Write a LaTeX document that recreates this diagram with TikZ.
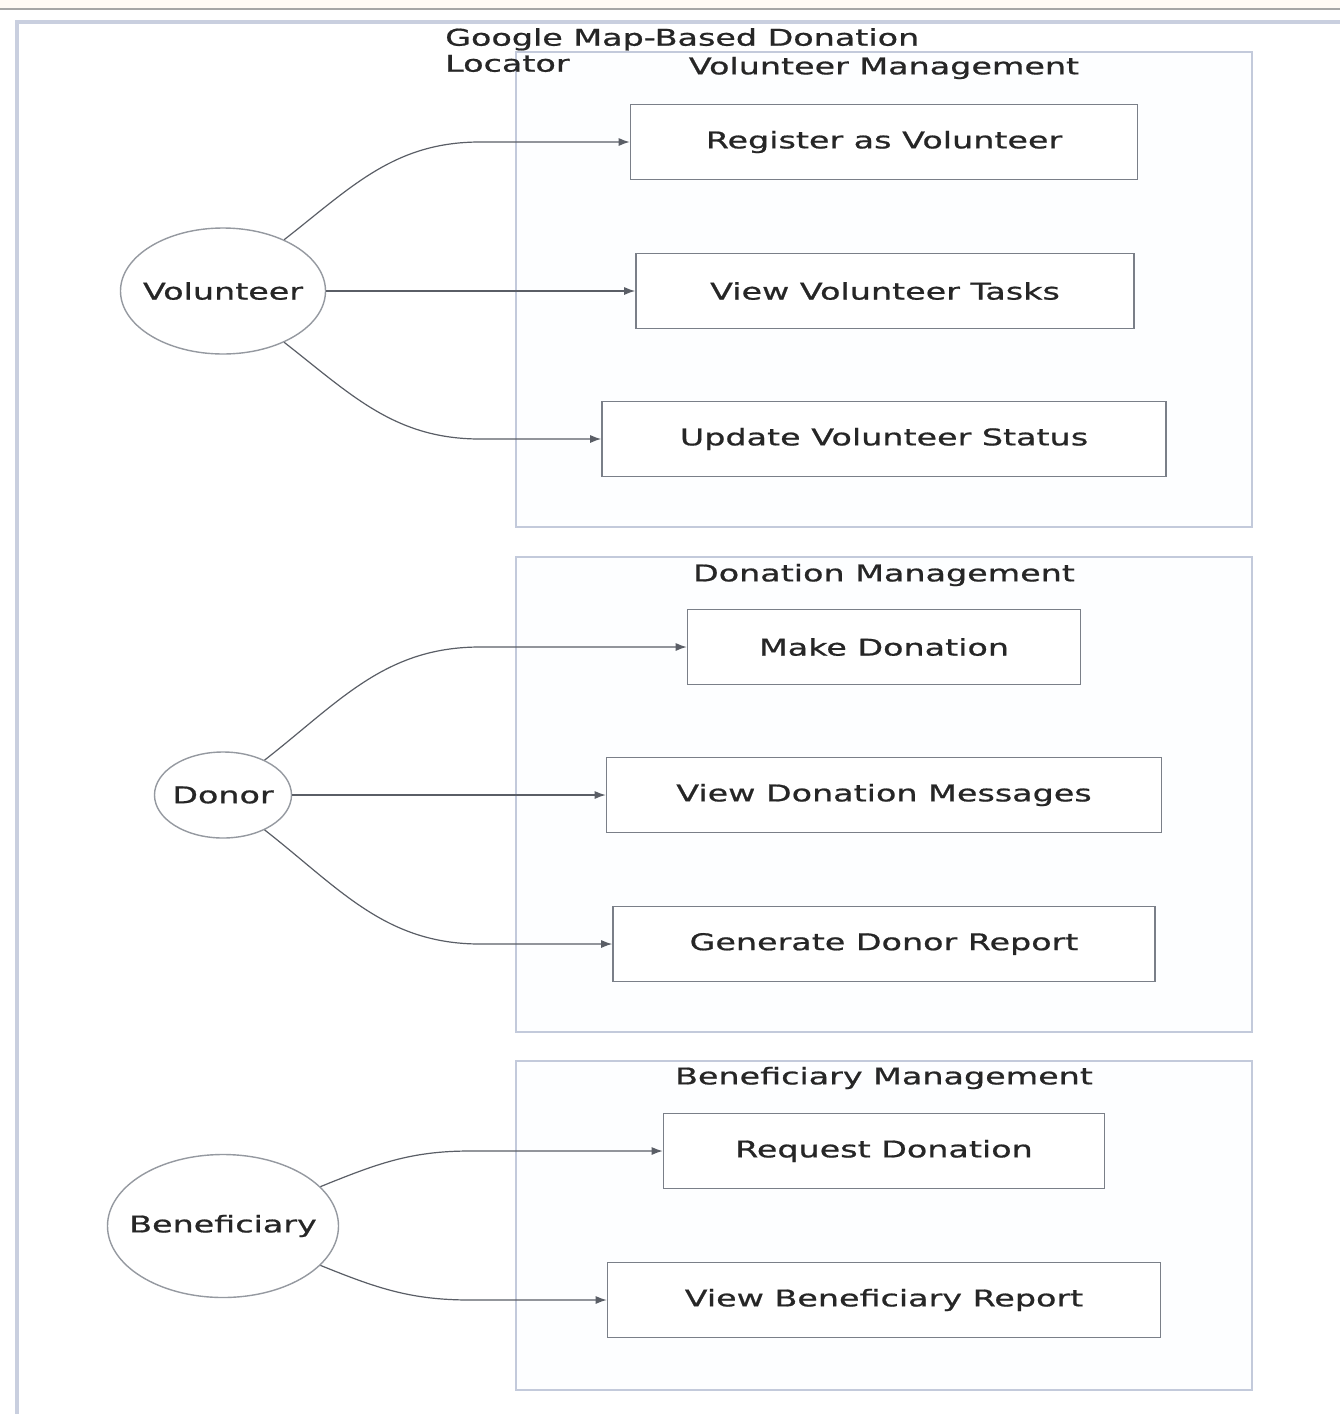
\documentclass[tikz,border=0pt]{standalone}
\usepackage{fontspec}
\setmainfont{DejaVu Sans}[FakeStretch=1.45, FakeBold=0.8]
\usetikzlibrary{shapes.geometric,arrows.meta}
\definecolor{sgborder}{HTML}{C3CADB}
\definecolor{sgfill}{HTML}{FDFEFF}
\definecolor{boxline}{HTML}{7A7F88}
\definecolor{edge}{HTML}{5A5E66}
\tikzset{
  lbl/.style={font=\fontsize{23}{29}\selectfont, text=black!85},
  usecase/.style={draw=boxline, line width=1.6pt, fill=white, minimum height=75pt, inner sep=0pt, lbl},
  actor/.style={ellipse, draw=boxline!80, line width=1.4pt, fill=white, inner sep=0pt, lbl},
  group/.style={draw=sgborder, line width=2pt, fill=sgfill},
  arr/.style={draw=edge, line width=1.2pt, -{Latex[length=11pt,width=8pt]}},
}
\begin{document}
\begin{tikzpicture}[x=1pt,y=-1pt]
\useasboundingbox (0,0) rectangle (1340,1414);
\fill[white] (0,0) rectangle (1340,1414);
\fill[orange!4] (0,0) rectangle (1340,8);
\draw[gray!70, line width=1.5pt] (0,9) -- (1340,9);
\draw[sgborder!90, line width=4pt] (17,1414) -- (17,22) -- (1340,22);
% groups
\draw[group] (516,52) rectangle (1252,527);
\draw[group] (516,557) rectangle (1252,1032);
\draw[group] (516,1061) rectangle (1252,1390);
\node[lbl, anchor=north west, align=left, inner sep=0pt] (title) at (445,28) {Google Map-Based Donation\\[-3pt]Locator};
\node[lbl] (gv) at (884,68) {Volunteer Management};
\node[lbl] (gd) at (884,575) {Donation Management};
\node[lbl] (gb) at (884,1078) {Beneficiary Management};
% use cases
\node[usecase, minimum width=507pt] (reg) at (884,142) {Register as Volunteer};
\node[usecase, minimum width=498pt] (tasks) at (885,291) {View Volunteer Tasks};
\node[usecase, minimum width=564pt] (upd) at (884,439) {Update Volunteer Status};
\node[usecase, minimum width=393pt] (make) at (884,647) {Make Donation};
\node[usecase, minimum width=555pt] (msgs) at (884,795) {View Donation Messages};
\node[usecase, minimum width=542pt] (rep) at (884,944) {Generate Donor Report};
\node[usecase, minimum width=441pt] (req) at (884,1151) {Request Donation};
\node[usecase, minimum width=553pt] (brep) at (884,1300) {View Beneficiary Report};
% actors
\node[actor, minimum width=205pt, minimum height=126pt] (vol) at (223,291) {\makebox[0pt]{Volunteer}};
\node[actor, minimum width=137pt, minimum height=86pt] (don) at (223,795) {\makebox[0pt]{Donor}};
\node[actor, minimum width=231pt, minimum height=143pt] (ben) at (223,1226) {\makebox[0pt]{Beneficiary}};
% bend coordinates
\coordinate (c1) at (480,142);
\coordinate (c3) at (480,439);
\coordinate (c4) at (480,647);
\coordinate (c6) at (480,944);
\coordinate (c7) at (470,1151);
\coordinate (c8) at (470,1300);
% edges
\draw[arr] (vol.40) to[out=38,in=180] (c1) -- (reg.west);
\draw[arr] (vol) -- (tasks.west);
\draw[arr] (vol.-40) to[out=-38,in=180] (c3) -- (upd.west);
\draw[arr] (don.40) to[out=38,in=180] (c4) -- (make.west);
\draw[arr] (don) -- (msgs.west);
\draw[arr] (don.-40) to[out=-38,in=180] (c6) -- (rep.west);
\draw[arr] (ben.22) to[out=22,in=180] (c7) -- (req.west);
\draw[arr] (ben.-22) to[out=-22,in=180] (c8) -- (brep.west);
\end{tikzpicture}
\end{document}
